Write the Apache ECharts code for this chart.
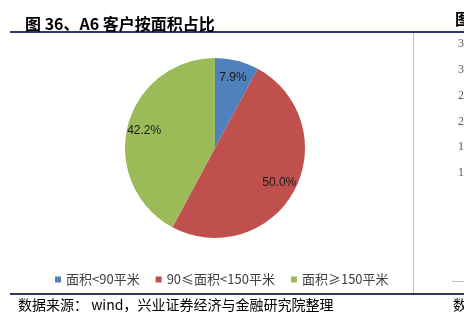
<!DOCTYPE html>
<html>
<head>
<meta charset="utf-8">
<script src="https://cdn.jsdelivr.net/npm/echarts@6/dist/echarts.min.js"></script>
<style>
html,body{margin:0;padding:0;background:#fff;}
#chart{width:464px;height:319px;}
</style>
</head>
<body>
<div id="chart"></div>
<script>
var titleText = '图 36、A6 客户按面积占比';
var sourceText = '数据来源： wind，兴业证券经济与金融研究院整理';
var categories = ['面积<90平米', '90≤面积<150平米', '面积≥150平米'];
var shares = [7.9, 50.0, 42.2];
var colors = ['#4F81BD', '#C0504D', '#9BBB59'];
// neighbouring (cropped) chart on the right edge
var rightTicks = ['10', '15', '20', '25', '30', '35'];

var cjk = '"Noto Sans CJK SC", sans-serif';
var pieData = categories.map(function (n, i) {
  return { name: n, value: shares[i], itemStyle: { color: colors[i] } };
});
var labelData = categories.map(function (n, i) {
  return { name: n, value: shares[i], itemStyle: { color: 'rgba(0,0,0,0)' } };
});

var chart = echarts.init(document.getElementById('chart'), null, { renderer: 'canvas' });
chart.setOption({
  animation: false,
  backgroundColor: '#fff',
  title: {
    text: titleText,
    left: 20, top: 10,
    textStyle: { fontFamily: cjk, fontSize: 16, fontWeight: 'bold', color: '#000', lineHeight: 18 }
  },
  legend: {
    left: 50, top: 268,
    icon: 'rect', itemWidth: 6, itemHeight: 6, itemGap: 16,
    selectedMode: false,
    textStyle: { fontFamily: cjk, fontSize: 13, color: '#404040' },
    data: categories.map(function (n, i) {
      return { name: n, itemStyle: { color: colors[i], opacity: 1 } };
    })
  },
  grid: { left: 456, top: 44, width: 40, height: 129, show: false },
  xAxis: { type: 'value', show: false },
  yAxis: {
    type: 'category', data: rightTicks, boundaryGap: false,
    axisLine: { show: false }, axisTick: { show: false }, splitLine: { show: false },
    axisLabel: { inside: true, margin: 2, fontSize: 12, color: '#595959', fontFamily: '"Liberation Serif", serif' }
  },
  series: [
    {
      type: 'pie', center: [215, 148], radius: [0, 90], startAngle: 90, clockwise: true,
      silent: true, label: { show: false }, labelLine: { show: false },
      itemStyle: { borderWidth: 0 },
      data: pieData
    },
    {
      type: 'pie', center: [215, 148], radius: [50, 90], startAngle: 90, clockwise: true,
      silent: true, avoidLabelOverlap: false, labelLine: { show: false },
      itemStyle: { borderWidth: 0 },
      label: {
        show: true, position: 'inside', fontSize: 12, color: '#1a1a1a',
        fontFamily: '"Liberation Sans", Arial, sans-serif',
        formatter: function (p) { return p.value.toFixed(1) + '%'; }
      },
      data: labelData
    }
  ],
  graphic: [
    { type: 'line', silent: true, shape: { x1: 10, y1: 32, x2: 464, y2: 32 }, style: { stroke: '#2F3A6B', lineWidth: 2 } },
    { type: 'line', silent: true, shape: { x1: 10, y1: 294, x2: 464, y2: 294 }, style: { stroke: '#2F3A6B', lineWidth: 2 } },
    { type: 'line', silent: true, shape: { x1: 413.5, y1: 33, x2: 413.5, y2: 293 }, style: { stroke: '#BFBFBF', lineWidth: 1 } },
    { type: 'line', silent: true, shape: { x1: 452, y1: 281.5, x2: 464, y2: 281.5 }, style: { stroke: '#BFBFBF', lineWidth: 1 } },
    { type: 'text', silent: true, x: 18, y: 305, style: { text: sourceText, font: '14px ' + cjk, fill: '#000', verticalAlign: 'middle' } },
    { type: 'text', silent: true, x: 453, y: 305, style: { text: '数据来源', font: '14px ' + cjk, fill: '#000', verticalAlign: 'middle' } },
    { type: 'text', silent: true, x: 455, y: 19, style: { text: '图', font: 'bold 16px ' + cjk, fill: '#000', verticalAlign: 'middle' } }
  ]
});
</script>
</body>
</html>
